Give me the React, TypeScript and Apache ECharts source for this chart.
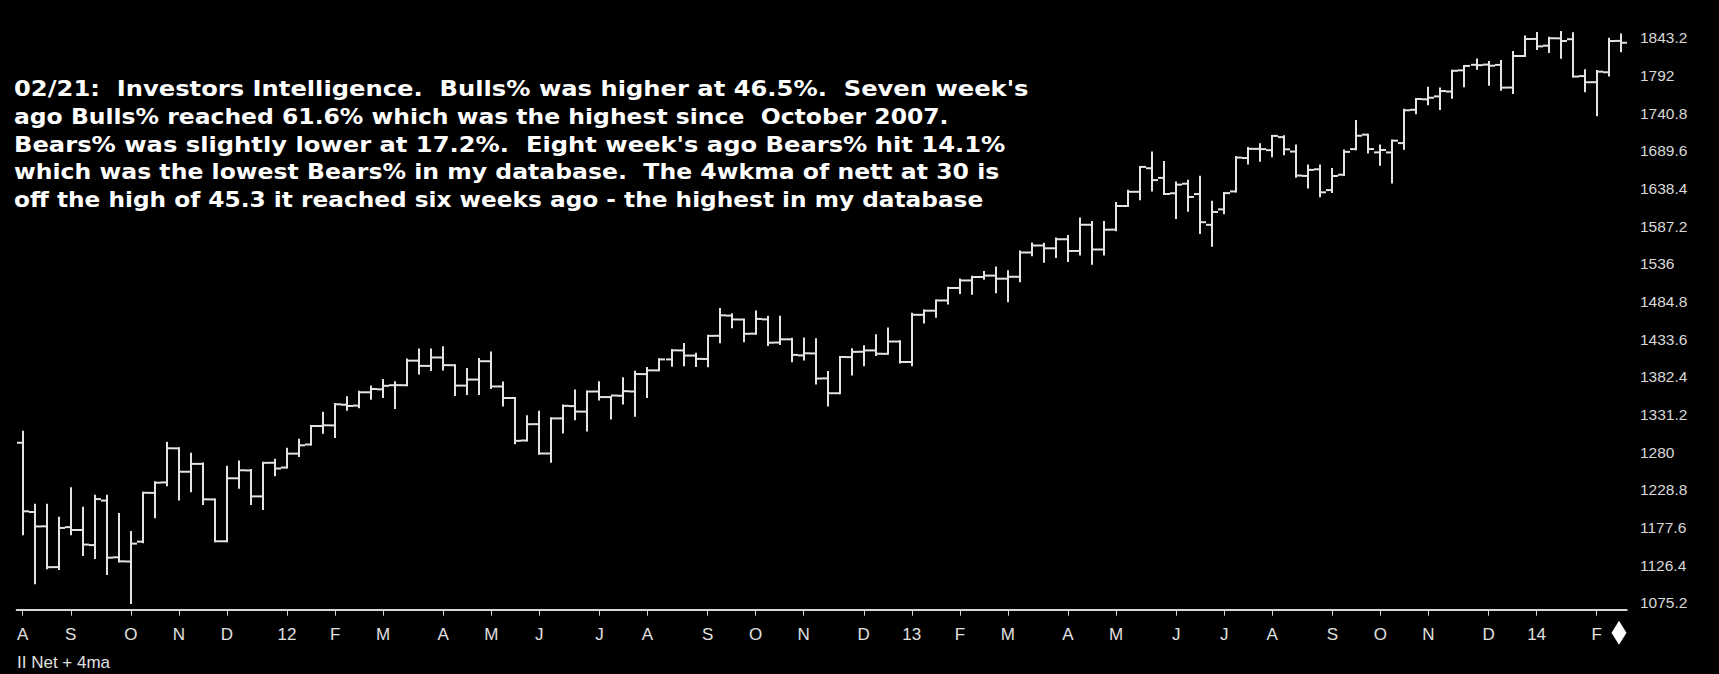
import React, { useEffect, useRef } from "react";
import * as echarts from "echarts";

// Weekly bars (week ending Friday), first week ends 2011-08-05
const firstWeekEnd = "2011-08-05";

const opens = [
  1292.6, 1198.5, 1179.0, 1123.6, 1177.9, 1174.0, 1153.5, 1214.0, 1136.9, 1131.2,
  1158.2, 1224.5, 1238.7, 1285.0, 1253.2, 1263.9, 1215.6, 1158.7, 1244.3, 1255.0,
  1219.7, 1265.4, 1258.9, 1277.8, 1290.2, 1315.3, 1316.2, 1344.3, 1343.1, 1361.2,
  1365.2, 1370.8, 1370.8, 1404.2, 1397.1, 1408.5, 1398.0, 1370.3, 1378.5, 1403.4,
  1369.1, 1353.4, 1295.7, 1317.9, 1278.0, 1325.7, 1342.4, 1334.9, 1362.3, 1354.7,
  1356.5, 1362.3, 1385.9, 1391.0, 1405.9, 1418.1, 1411.1, 1406.5, 1438.0, 1465.4,
  1460.1, 1440.9, 1460.3, 1428.8, 1433.2, 1411.3, 1414.0, 1380.1, 1359.9, 1409.0,
  1416.3, 1418.1, 1413.5, 1430.2, 1402.4, 1466.5, 1472.1, 1486.0, 1503.0, 1513.2,
  1517.9, 1519.8, 1515.6, 1518.2, 1551.2, 1560.7, 1556.9, 1569.2, 1553.3, 1588.9,
  1555.3, 1582.3, 1614.4, 1633.7, 1665.7, 1652.6, 1631.7, 1644.7, 1630.6, 1588.8,
  1609.8, 1634.2, 1679.6, 1692.1, 1690.3, 1708.0, 1688.4, 1655.3, 1664.3, 1636.0,
  1656.9, 1691.7, 1711.4, 1687.3, 1687.2, 1699.9, 1745.2, 1759.4, 1763.4, 1770.0,
  1798.8, 1806.3, 1806.6, 1806.2, 1775.4, 1818.3, 1841.5, 1832.3, 1842.3, 1841.1,
  1791.0, 1782.7, 1796.2, 1838.8,
];
const highs = [
  1307.4, 1208.5, 1208.5, 1190.7, 1230.7, 1204.4, 1220.4, 1220.6, 1195.9, 1171.4,
  1224.6, 1239.0, 1292.7, 1285.0, 1277.6, 1264.3, 1215.6, 1260.1, 1267.1, 1255.5,
  1265.4, 1269.4, 1284.6, 1296.8, 1315.5, 1333.5, 1345.3, 1354.3, 1362.0, 1368.9,
  1378.0, 1374.7, 1405.9, 1419.2, 1419.2, 1422.4, 1398.0, 1392.8, 1406.6, 1415.3,
  1374.6, 1353.4, 1328.5, 1334.9, 1325.8, 1343.3, 1363.5, 1362.2, 1374.8, 1354.9,
  1380.4, 1389.2, 1394.2, 1406.0, 1418.7, 1426.7, 1413.5, 1437.9, 1474.5, 1467.1,
  1460.1, 1471.0, 1464.0, 1464.0, 1434.0, 1434.3, 1433.4, 1388.8, 1409.2, 1419.7,
  1423.7, 1438.6, 1448.0, 1430.5, 1467.9, 1472.3, 1486.0, 1503.3, 1514.4, 1518.3,
  1524.7, 1530.9, 1525.8, 1552.5, 1563.6, 1563.0, 1570.3, 1573.7, 1597.4, 1592.6,
  1592.6, 1618.5, 1635.0, 1667.5, 1687.2, 1674.2, 1646.5, 1648.7, 1654.2, 1620.1,
  1632.1, 1681.0, 1693.1, 1698.4, 1709.7, 1709.2, 1696.8, 1669.5, 1669.5, 1664.8,
  1690.0, 1729.9, 1711.4, 1696.6, 1703.4, 1745.3, 1759.8, 1775.2, 1774.0, 1798.2,
  1804.8, 1813.6, 1810.0, 1811.5, 1823.8, 1844.9, 1849.4, 1843.2, 1850.8, 1849.3,
  1798.8, 1798.0, 1841.7, 1847.5,
];
const lows = [
  1168.1, 1101.5, 1122.1, 1121.1, 1168.3, 1140.1, 1136.1, 1114.2, 1131.1, 1074.8,
  1157.3, 1191.5, 1235.0, 1215.4, 1226.6, 1209.4, 1158.7, 1158.7, 1231.5, 1209.5,
  1202.4, 1248.6, 1258.9, 1274.6, 1290.2, 1306.1, 1300.5, 1337.5, 1340.8, 1352.3,
  1354.9, 1340.0, 1370.8, 1386.9, 1391.6, 1392.0, 1357.4, 1358.8, 1358.8, 1367.0,
  1343.1, 1291.9, 1295.7, 1277.8, 1266.7, 1306.6, 1324.4, 1309.3, 1351.5, 1325.4,
  1346.0, 1329.2, 1354.7, 1391.0, 1397.3, 1398.0, 1397.0, 1396.6, 1429.1, 1449.6,
  1430.5, 1440.9, 1425.5, 1426.9, 1403.3, 1405.9, 1373.0, 1343.4, 1359.9, 1385.4,
  1398.1, 1411.9, 1413.5, 1401.6, 1398.1, 1456.1, 1463.8, 1482.0, 1496.3, 1495.0,
  1515.6, 1497.3, 1485.0, 1512.0, 1547.4, 1538.6, 1545.1, 1539.5, 1548.6, 1536.0,
  1548.6, 1581.3, 1614.4, 1623.7, 1635.5, 1630.7, 1598.2, 1608.1, 1577.7, 1560.3,
  1604.6, 1634.2, 1672.1, 1676.0, 1681.9, 1684.9, 1654.2, 1639.4, 1627.5, 1633.4,
  1656.6, 1691.7, 1687.1, 1670.4, 1646.5, 1692.1, 1740.5, 1752.7, 1746.2, 1761.6,
  1777.2, 1800.8, 1779.1, 1772.3, 1768.0, 1818.3, 1827.7, 1823.7, 1815.8, 1790.3,
  1770.5, 1737.9, 1791.8, 1824.6,
];
const closes = [
  1199.4, 1178.8, 1123.5, 1176.8, 1174.0, 1154.2, 1216.0, 1136.4, 1131.4, 1155.5,
  1224.6, 1238.3, 1285.1, 1253.2, 1263.9, 1215.7, 1158.7, 1244.3, 1255.2, 1219.7,
  1265.3, 1257.6, 1277.8, 1289.1, 1315.4, 1316.3, 1344.9, 1342.6, 1361.2, 1365.7,
  1370.0, 1370.9, 1404.2, 1397.1, 1408.5, 1398.1, 1370.3, 1378.5, 1403.4, 1369.1,
  1353.4, 1295.2, 1317.8, 1278.0, 1325.7, 1342.8, 1335.0, 1362.2, 1354.7, 1356.8,
  1362.7, 1386.0, 1391.0, 1405.9, 1418.2, 1411.1, 1406.6, 1437.9, 1465.8, 1460.2,
  1440.7, 1460.9, 1428.6, 1433.2, 1412.0, 1414.2, 1379.9, 1359.9, 1409.2, 1416.2,
  1418.1, 1413.6, 1430.2, 1402.4, 1466.5, 1472.1, 1486.0, 1503.0, 1513.2, 1517.9,
  1519.8, 1515.6, 1518.2, 1551.2, 1560.7, 1556.9, 1569.2, 1553.3, 1588.9, 1555.3,
  1582.2, 1614.4, 1633.7, 1667.5, 1649.6, 1630.7, 1643.4, 1626.7, 1592.4, 1606.3,
  1631.9, 1680.2, 1692.1, 1691.7, 1709.7, 1691.4, 1655.8, 1663.5, 1633.0, 1655.2,
  1688.0, 1709.9, 1691.8, 1690.5, 1703.2, 1744.5, 1759.8, 1761.6, 1770.6, 1798.2,
  1804.8, 1805.8, 1805.1, 1775.3, 1818.3, 1841.4, 1831.4, 1842.4, 1838.7, 1790.3,
  1782.6, 1797.0, 1838.6, 1836.3,
];

// Price axis ticks
const yMin = 1075.2;
const yStep = 51.2;
const yMax = 1894.4;

const monthInitials = ["J", "F", "M", "A", "M", "J", "J", "A", "S", "O", "N", "D"];

const noteLines = [
  "02/21:  Investors Intelligence.  Bulls% was higher at 46.5%.  Seven week's",
  "ago Bulls% reached 61.6% which was the highest since  October 2007.",
  "Bears% was slightly lower at 17.2%.  Eight week's ago Bears% hit 14.1%",
  "which was the lowest Bears% in my database.  The 4wkma of nett at 30 is",
  "off the high of 45.3 it reached six weeks ago - the highest in my database",
];
// rendered widths of the note lines in the reference (px)
const noteLineWidths = [1015, 935, 992, 986, 970];
const indicatorLabel = "II Net + 4ma";

function weekDates(): Date[] {
  const start = new Date(firstWeekEnd + "T12:00:00Z");
  return opens.map((_, i) => new Date(start.getTime() + i * 7 * 86400000));
}

const NOTE_FONT = "bold 22px 'DejaVu Sans', Verdana, sans-serif";

function measure(text: string): number {
  try {
    const cv = document.createElement("canvas");
    const ctx = cv.getContext("2d");
    if (!ctx) return 0;
    ctx.font = NOTE_FONT;
    return ctx.measureText(text).width;
  } catch (e) {
    return 0;
  }
}

export default function App() {
  const ref = useRef<HTMLDivElement>(null);

  useEffect(() => {
    if (!ref.current) return;
    const chart = echarts.init(ref.current, undefined, { renderer: "svg" });
    const dates = weekDates();
    const cats = dates.map((d) => d.toISOString().slice(0, 10));
    const isMonthStart = (i: number) =>
      i === 0 || dates[i].getUTCMonth() !== dates[i - 1].getUTCMonth();
    const monthLabel = (i: number) => {
      const d = dates[i];
      const m = d.getUTCMonth();
      if (m === 0) return String(d.getUTCFullYear() % 100).padStart(2, "0");
      return monthInitials[m];
    };
    const data = opens.map((o, i) => [i, o, highs[i], lows[i], closes[i]]);
    const last = data.length - 1;
    const barColor = "#e4e4e4";
    const axisColor = "#d8d8d8";

    const lineTop = 88.8;
    const lineGap = 27.6;

    chart.setOption({
      animation: false,
      backgroundColor: "#000000",
      grid: { left: 16.7, right: 92.3, top: -22.4, bottom: 71.3 },
      xAxis: {
        type: "category",
        data: cats,
        boundaryGap: true,
        offset: 7,
        axisLine: { show: true, lineStyle: { color: axisColor, width: 2 } },
        axisTick: {
          show: true,
          alignWithLabel: true,
          length: 6,
          interval: (i: number) => isMonthStart(i),
          lineStyle: { color: axisColor, width: 1 },
        },
        axisLabel: {
          interval: (i: number) => isMonthStart(i),
          formatter: (_v: string, i: number) => monthLabel(i),
          color: "#e0e0e0",
          fontFamily: "'Liberation Sans Narrow', 'Liberation Sans', Arial, sans-serif",
          fontSize: 17,
          margin: 16,
        },
        splitLine: { show: false },
      },
      yAxis: {
        type: "value",
        position: "right",
        min: yMin,
        max: yMax,
        interval: yStep,
        axisLine: { show: false },
        axisTick: { show: false },
        splitLine: { show: false },
        axisLabel: {
          showMaxLabel: false,
          margin: 13.3,
          color: "#d8d8d8",
          fontFamily: "'Liberation Sans', Arial, sans-serif",
          fontSize: 15.5,
          formatter: (v: number) => {
            if (v > 1843.3) return "";
            return String(Math.round(v * 10) / 10);
          },
        },
      },
      series: [
        {
          type: "custom",
          clip: false,
          encode: { x: 0, y: [1, 2, 3, 4] },
          data,
          renderItem: (params: any, api: any) => {
            const i = api.value(0);
            const o = api.coord([i, api.value(1)]);
            const h = api.coord([i, api.value(2)]);
            const l = api.coord([i, api.value(3)]);
            const c = api.coord([i, api.value(4)]);
            const half = api.size([1, 0])[0] / 2;
            const x = Math.round(h[0]);
            const style = { stroke: barColor, lineWidth: 2 };
            const children: any[] = [
              { type: "line", shape: { x1: x, y1: h[1] - 1, x2: x, y2: l[1] + 1 }, style },
              { type: "line", shape: { x1: x - half, y1: o[1], x2: x, y2: o[1] }, style },
              { type: "line", shape: { x1: x, y1: c[1], x2: x + half, y2: c[1] }, style },
            ];
            if (params.dataIndex === last) {
              const base = api.coord([i, yMin]);
              const cy = base[1] + 30;
              const dx = x - 2;
              children.push({
                type: "polygon",
                shape: {
                  points: [
                    [dx, cy - 12],
                    [dx + 7.5, cy],
                    [dx, cy + 12],
                    [dx - 7.5, cy],
                  ],
                },
                style: { fill: "#ffffff" },
              });
            }
            return { type: "group", children };
          },
        },
      ],
      graphic: [
        ...noteLines.map((t, k) => {
          const w = measure(t);
          const sx = w > 0 ? noteLineWidths[k] / w : 1.1;
          return {
            type: "text",
            x: 14,
            y: lineTop + k * lineGap,
            scaleX: sx,
            style: {
              text: t,
              x: 0,
              y: 0,
              verticalAlign: "middle",
              fill: "#ffffff",
              fontFamily: "'DejaVu Sans', Verdana, sans-serif",
              fontWeight: "bold",
              fontSize: 22,
            },
          };
        }),
        {
          type: "text",
          x: 17,
          y: 662,
          style: {
            text: indicatorLabel,
            verticalAlign: "middle",
            fill: "#e0e0e0",
            fontFamily: "'Liberation Sans Narrow', 'Liberation Sans', Arial, sans-serif",
            fontSize: 17,
          },
        },
      ],
    });
    return () => chart.dispose();
  }, []);

  return (
    <div
      ref={ref}
      style={{
        position: "fixed",
        left: 0,
        top: 0,
        width: "1719px",
        height: "674px",
        background: "#000",
      }}
    />
  );
}
